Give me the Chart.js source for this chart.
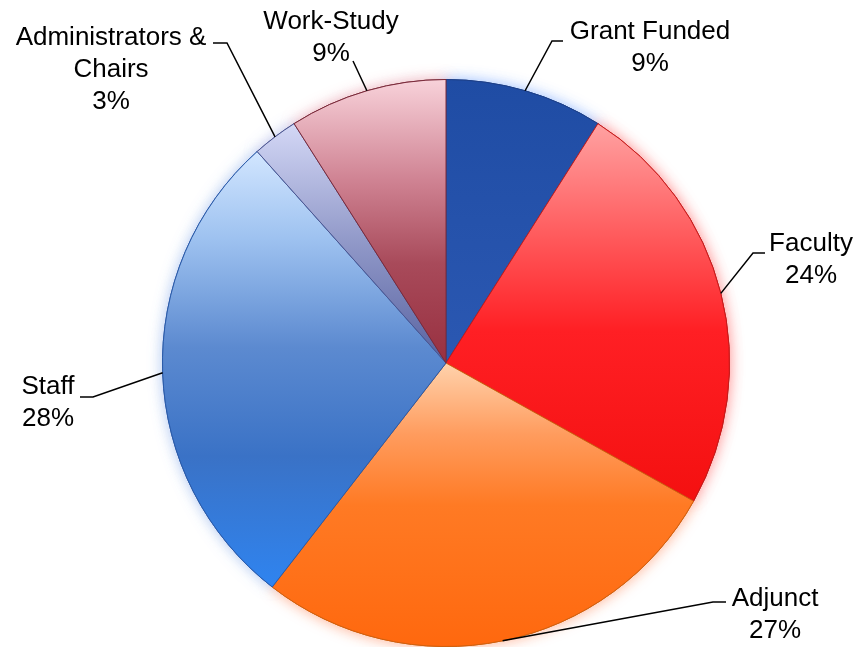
<!DOCTYPE html>
<html>
<head>
<meta charset="utf-8">
<script src="https://cdn.jsdelivr.net/npm/chart.js@4/dist/chart.umd.min.js"></script>
<style>
  html, body { margin: 0; padding: 0; background: #fff; }
  #wrap { width: 857px; height: 647px; }
</style>
</head>
<body>
<div id="wrap"><canvas id="pie" width="857" height="647"></canvas></div>
<script>
// categories and values (percent of total)
const categories = ["Grant Funded", "Faculty", "Adjunct", "Staff", "Administrators &\nChairs", "Work-Study"];
const shares = [9.0, 24.1, 27.4, 27.9, 2.6, 9.0];

// slice looks: vertical gradient stops (top -> bottom of each slice)
const sliceStops = [
  [[0, "#1f4ca4"], [1, "#2b58b2"]],
  [[0, "#ffa2a2"], [0.3, "#ff5a5c"], [0.55, "#ff1f24"], [1, "#f41010"]],
  [[0, "#ffd2ac"], [0.25, "#ff9c5e"], [0.5, "#ff7a24"], [1, "#ff680e"]],
  [[0, "#d2e6ff"], [0.2, "#9ec2f0"], [0.45, "#5c8ad0"], [0.7, "#3a72c6"], [1, "#2f84f0"]],
  [[0, "#d4d8f6"], [0.5, "#9098c8"], [1, "#5862a0"]],
  [[0, "#f8d2da"], [0.35, "#d08494"], [0.65, "#a84a5a"], [1, "#983040"]]
];
const sliceEdge = ["#1c3f88", "#c41a1a", "#d0600e", "#2a5aa8", "#4c5690", "#7a2a3a"];
const sliceGlow = ["rgba(110,160,255,0.7)", "rgba(255,90,90,0.7)", "rgba(255,120,70,0.6)",
                   "rgba(120,160,230,0.6)", "rgba(140,150,220,0.6)", "rgba(220,120,140,0.6)"];

// leader lines and label placement
const labelLayout = [
  { elbow: [552, 41], end: [563, 41], x: 650, y: 32 },
  { elbow: [753, 253], end: [765, 253], x: 811, y: 244 },
  { elbow: [713, 602], end: [726, 602], x: 775, y: 599 },
  { elbow: [93, 397], end: [80, 397], x: 48, y: 387 },
  { elbow: [227, 43], end: [213, 43], x: 111, y: 38 },
  { elbow: [353, 61], end: null, x: 331, y: 22 }
];
const lineStep = 32;

function sliceGradient(context) {
  const chart = context.chart;
  const i = context.dataIndex;
  const area = chart.chartArea;
  if (!area || i === undefined) return sliceEdge[i || 0];
  const cx = (area.left + area.right) / 2;
  const cy = (area.top + area.bottom) / 2;
  const r = Math.min(area.right - area.left, area.bottom - area.top) / 2;
  const total = shares.reduce((a, b) => a + b, 0);
  let before = 0;
  for (let k = 0; k < i; k++) before += shares[k];
  const a0 = -Math.PI / 2 + before / total * Math.PI * 2;
  const a1 = a0 + shares[i] / total * Math.PI * 2;
  // vertical extent of the slice
  const ys = [cy, cy + r * Math.sin(a0), cy + r * Math.sin(a1)];
  [-Math.PI / 2, Math.PI / 2, Math.PI * 1.5].forEach(a => {
    if (a > a0 && a < a1) ys.push(cy + r * Math.sin(a));
  });
  const top = Math.min(...ys), bottom = Math.max(...ys);
  const g = chart.ctx.createLinearGradient(0, top, 0, bottom);
  sliceStops[i].forEach(s => g.addColorStop(s[0], s[1]));
  return g;
}

// soft coloured halo behind each slice
const glowPlugin = {
  id: "glow",
  beforeDatasetsDraw(chart) {
    const ctx = chart.ctx;
    chart.getDatasetMeta(0).data.forEach((arc, i) => {
      ctx.save();
      ctx.shadowColor = sliceGlow[i];
      ctx.shadowBlur = 14;
      arc.draw(ctx);
      ctx.restore();
    });
  }
};

// callout labels with leader lines
const calloutPlugin = {
  id: "callouts",
  afterDatasetsDraw(chart) {
    const ctx = chart.ctx;
    const total = shares.reduce((a, b) => a + b, 0);
    chart.getDatasetMeta(0).data.forEach((arc, i) => {
      const p = arc.getProps(["x", "y", "startAngle", "endAngle", "outerRadius"], true);
      const mid = (p.startAngle + p.endAngle) / 2;
      const sx = p.x + Math.cos(mid) * p.outerRadius;
      const sy = p.y + Math.sin(mid) * p.outerRadius;
      const L = labelLayout[i];
      ctx.save();
      ctx.strokeStyle = "#000";
      ctx.lineWidth = 1.5;
      ctx.beginPath();
      ctx.moveTo(sx, sy);
      ctx.lineTo(L.elbow[0], L.elbow[1]);
      if (L.end) ctx.lineTo(L.end[0], L.end[1]);
      ctx.stroke();

      ctx.fillStyle = "#000";
      ctx.font = "26px 'Liberation Sans', Arial, sans-serif";
      ctx.textAlign = "center";
      ctx.textBaseline = "middle";
      const lines = categories[i].split("\n");
      lines.push(Math.round(shares[i] / total * 100) + "%");
      lines.forEach((t, k) => ctx.fillText(t, L.x, L.y + k * lineStep));
      ctx.restore();
    });
  }
};

new Chart(document.getElementById("pie"), {
  type: "pie",
  data: {
    labels: categories,
    datasets: [{
      data: shares,
      backgroundColor: sliceGradient,
      borderColor: sliceEdge,
      borderWidth: 1,
      clip: false
    }]
  },
  options: {
    responsive: false,
    animation: false,
    layout: { padding: { left: 159, right: 124, top: 79, bottom: -6 } },
    plugins: {
      legend: { display: false },
      tooltip: { enabled: false }
    }
  },
  plugins: [glowPlugin, calloutPlugin]
});
</script>
</body>
</html>
